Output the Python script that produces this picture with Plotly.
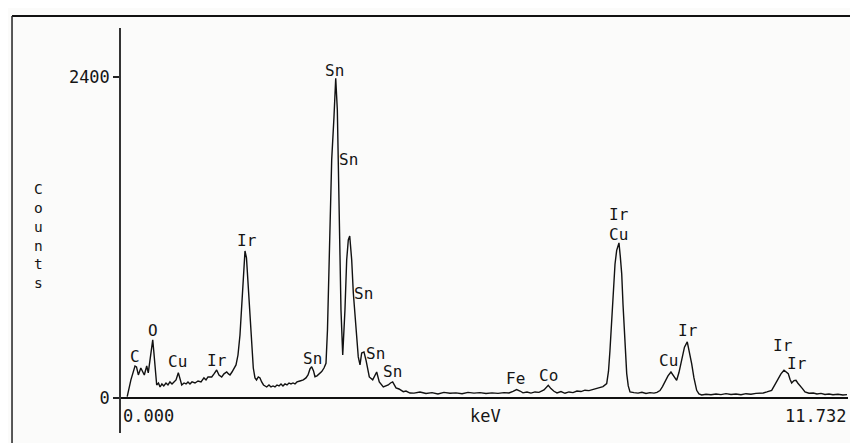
import plotly.graph_objects as go

# ---- spectrum (keV, counts) ----
energy_kev = [
    0.10, 0.16, 0.226, 0.25, 0.28, 0.32, 0.376, 0.415, 0.44, 0.476, 0.512, 0.53, 0.56, 0.576,
    0.605, 0.63, 0.66, 0.69, 0.726, 0.758, 0.79, 0.823, 0.855, 0.888, 0.925, 0.952, 0.98,
    1.017, 1.05, 1.081, 1.113, 1.146, 1.194, 1.243, 1.291, 1.339, 1.372, 1.404, 1.464, 1.501,
    1.544, 1.581, 1.625, 1.662, 1.706, 1.735, 1.759, 1.791, 1.828, 1.856, 1.888, 1.92, 1.948,
    1.974, 2.001, 2.025, 2.054, 2.082, 2.109, 2.135, 2.162, 2.187, 2.216, 2.243, 2.27, 2.30,
    2.351, 2.388, 2.42, 2.453, 2.485, 2.517, 2.55, 2.582, 2.614, 2.646, 2.679, 2.711, 2.743,
    2.776, 2.808, 2.84, 2.888, 2.942, 2.985, 3.018, 3.05, 3.077, 3.107, 3.13, 3.163, 3.195,
    3.239, 3.276, 3.308, 3.332, 3.361, 3.40, 3.437, 3.465, 3.491, 3.523, 3.55, 3.578, 3.614,
    3.642, 3.668, 3.691, 3.723, 3.749, 3.792, 3.829, 3.857, 3.884, 3.921, 3.953, 4.007, 4.062,
    4.126, 4.168, 4.233, 4.276, 4.313, 4.349, 4.384, 4.438, 4.486, 4.555, 4.599, 4.664,
    4.728, 4.825, 4.922, 5.019, 5.115, 5.212, 5.309, 5.406, 5.503, 5.60, 5.696, 5.793, 5.89,
    5.987, 6.084, 6.18, 6.261, 6.326, 6.385, 6.439, 6.487, 6.552, 6.616, 6.681, 6.745, 6.826,
    6.895, 6.938, 6.987, 7.036, 7.10, 7.165, 7.229, 7.294, 7.358, 7.423, 7.487, 7.552, 7.649,
    7.73, 7.778, 7.838, 7.867, 7.891, 7.918, 7.944, 7.972, 7.999, 8.036, 8.057, 8.08, 8.101,
    8.122, 8.141, 8.161, 8.186, 8.214, 8.278, 8.343, 8.407, 8.472, 8.536, 8.601, 8.649, 8.698,
    8.738, 8.778, 8.827, 8.875, 8.924, 8.967, 9.004, 9.048, 9.093, 9.138, 9.173, 9.209, 9.246,
    9.29, 9.327, 9.371, 9.441, 9.521, 9.602, 9.682, 9.763, 9.844, 9.924, 10.005, 10.086,
    10.166, 10.247, 10.311, 10.365, 10.424, 10.50, 10.553, 10.607, 10.65, 10.699, 10.731,
    10.768, 10.796, 10.823, 10.86, 10.892, 10.924, 10.957, 10.997, 11.038, 11.102, 11.172,
    11.231, 11.296, 11.36, 11.425, 11.49, 11.57, 11.65, 11.716,
]
counts = [
    10, 135, 239, 232, 172, 224, 172, 239, 187, 321, 434, 344, 172, 97,
    112, 82, 105, 90, 112, 97, 120, 105, 120, 135, 189, 135, 97,
    112, 105, 120, 105, 120, 112, 127, 120, 150, 135, 157, 157, 180,
    209, 172, 157, 180, 194, 180, 172, 194, 224, 247, 321, 471, 688,
    920, 1099, 1047, 808, 583, 359, 224, 150, 135, 157, 150, 120, 97,
    82, 97, 82, 90, 82, 97, 90, 105, 90, 105, 97, 112, 105,
    112, 105, 120, 127, 135, 150, 172, 217, 234, 202, 159, 165, 180,
    197, 224, 259, 508, 1032, 1780, 2101, 2390, 2153, 1279, 658, 322, 658,
    1032, 1181, 1211, 1032, 785, 486, 307, 247, 336, 344, 284, 157, 135,
    194, 120, 82, 90, 97, 112, 120, 75, 67, 47, 52, 37,
    36, 44, 33, 40, 30, 42, 35, 38, 32, 42, 36, 40, 33,
    38, 34, 40, 37, 50, 63, 52, 38, 44, 36, 45, 42, 60,
    95, 70, 50, 38, 48, 35, 45, 40, 52, 48, 58, 55, 70,
    80, 85, 107, 200, 357, 600, 855, 1000, 1104, 1159, 1060, 930, 700,
    482, 300, 182, 90, 45, 40, 36, 42, 34, 40, 36, 42, 55,
    85, 120, 165, 194, 165, 132, 190, 282, 380, 419, 350, 257, 150,
    57, 30, 22, 28, 24, 30, 25, 32, 26, 30, 24, 32,
    28, 34, 36, 37, 45, 57, 100, 145, 180, 207, 195,
    182, 140, 112, 130, 132, 110, 95, 70, 45, 35, 37,
    30, 34, 26, 30, 24, 28, 22, 25,
]

# ---- peak labels ----
peak_labels = ["C", "O", "Cu", "Ir", "Ir", "Sn", "Sn", "Sn", "Sn", "Sn", "Sn",
               "Fe", "Co", "Ir", "Cu", "Cu", "Ir", "Ir", "Ir"]
label_kev = [0.226, 0.512, 0.909, 1.554, 2.028, 3.087, 3.453, 3.668, 3.910, 4.099, 4.384,
             6.374, 6.895, 8.041, 8.025, 8.832, 9.155, 10.688, 10.913]
label_counts = [309, 508, 271, 279, 1176, 292, 2447, 1780, 783, 329, 197,
                147, 167, 1375, 1225, 277, 501, 389, 254]

x_range = [0.0, 11.732]
y_range = [-262, 2766]
y_ticks = [0, 2400]
y_tick_text = ["0", "2400"]
x_label_left = "0.000"
x_label_mid = "keV"
x_label_right = "11.732"
y_title = "Counts"

MONO = "DejaVu Sans Mono"
INK = "#151515"
BG = "#fbfbfa"

fig = go.Figure()
fig.add_trace(go.Scatter(x=energy_kev, y=counts, mode="lines",
                         line=dict(color="#111111", width=1.4),
                         hoverinfo="skip", showlegend=False))

annotations = []
for t, xk, yc in zip(peak_labels, label_kev, label_counts):
    annotations.append(dict(x=xk, y=yc, xref="x", yref="y", text=t, showarrow=False,
                            xanchor="center", yanchor="middle",
                            font=dict(family=MONO, size=16, color=INK)))

# x-axis texts under the axis line
annotations.append(dict(x=x_range[0], y=-138, xref="x", yref="y", text=x_label_left,
                        showarrow=False, xanchor="left", yanchor="middle",
                        font=dict(family=MONO, size=17, color=INK)))
annotations.append(dict(x=5.6, y=-138, xref="x", yref="y", text=x_label_mid,
                        showarrow=False, xanchor="left", yanchor="middle",
                        font=dict(family=MONO, size=17, color=INK)))
annotations.append(dict(x=x_range[1], y=-138, xref="x", yref="y", text=x_label_right,
                        showarrow=False, xanchor="right", yanchor="middle",
                        font=dict(family=MONO, size=17, color=INK)))
# vertical stacked "Counts"
annotations.append(dict(x=-0.114, y=0.486, xref="paper", yref="paper",
                        text="<br>".join(list(y_title)), showarrow=False,
                        xanchor="center", yanchor="middle", align="center",
                        font=dict(family=MONO, size=14.5, color=INK)))

shapes = [
    # outer frame (top and left edges)
    dict(type="line", xref="paper", yref="paper", x0=-0.1499, x1=1.02, y0=1.0296, y1=1.0296,
         line=dict(color="#111111", width=2)),
    dict(type="line", xref="paper", yref="paper", x0=-0.1499, x1=-0.1499, y0=1.0296, y1=-0.03,
         line=dict(color="#222222", width=1.5)),
]

# the page body adds an 8px offset, so the figure is laid out 8px smaller
fig.update_layout(
    width=850, height=435,
    margin=dict(l=113, r=10, t=20, b=10),
    paper_bgcolor=BG, plot_bgcolor=BG,
    showlegend=False,
    xaxis=dict(range=x_range, showgrid=False, zeroline=False, showline=False,
               showticklabels=False, ticks=""),
    yaxis=dict(range=y_range, showgrid=False, zeroline=True, zerolinecolor="#111111",
               zerolinewidth=1.5, showline=True, linecolor="#333333", linewidth=1.5,
               tickvals=y_ticks, ticktext=y_tick_text, ticks="outside", ticklen=6,
               tickwidth=1.5, tickcolor="#222222",
               tickfont=dict(family=MONO, size=17, color=INK)),
    annotations=annotations,
    shapes=shapes,
)

fig.write_html("out.html")
